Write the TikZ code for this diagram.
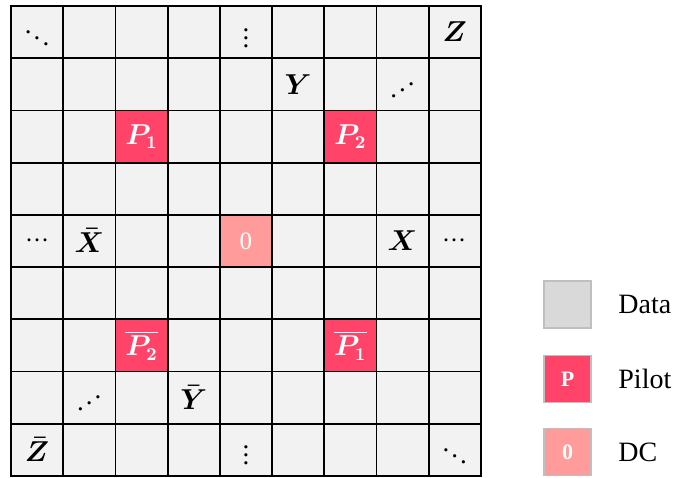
\documentclass[tikz,border=0pt]{standalone}
\usepackage{amsmath,amssymb}
\usepackage{graphicx}
\usepackage{fontspec}
\setmainfont{Liberation Serif}

\definecolor{cellgray}{RGB}{242,242,242}
\definecolor{datagray}{RGB}{217,217,217}
\definecolor{boxline}{RGB}{191,191,191}
\definecolor{pilotred}{RGB}{255,67,105}
\definecolor{dcpink}{RGB}{255,155,155}

\newcommand{\updots}{\reflectbox{$\scriptstyle\ddots$}}
\newcommand{\smdots}[1]{$\scriptstyle#1$}
\newcommand{\rowdots}{$\mathord{\cdot}\mathord{\cdot}\mathord{\cdot}$}

\tikzset{
  cell/.style={draw=black, line width=0.9pt, fill=cellgray, minimum size=26.1pt, inner sep=0pt},
  pilotcell/.style={cell, fill=pilotred, text=white},
  dccell/.style={cell, fill=dcpink, text=white, font=\fontsize{12.5}{15}\selectfont},
  legbox/.style={draw=boxline, line width=0.6pt, minimum size=23.5pt, inner sep=0pt},
  legtext/.style={anchor=west, inner sep=0pt, font=\fontsize{14}{17}\selectfont}
}

\begin{document}
\begin{tikzpicture}[x=0.5pt, y=-0.5pt, font=\fontsize{13.5}{16}\selectfont]
  \useasboundingbox (0,0) rectangle (675,477);

  % resource grid
  \foreach \r in {0,...,8} {
    \foreach \c in {0,...,8} {
      \node[cell] (c\r\c) at ({37.1+52.2*\c},{32.1+52.2*\r}) {};
    }
  }

  % pilots and DC
  \node[pilotcell] (p1) at (c22) {$\boldsymbol{P_1}$};
  \node[pilotcell] (p2) at (c26) {$\boldsymbol{P_2}$};
  \node[pilotcell] (p2bar) at (c62) {$\boldsymbol{\overline{P_2}}$};
  \node[pilotcell] (p1bar) at (c66) {$\boldsymbol{\overline{P_1}}$};
  \node[dccell] (dc) at (c44) {0};

  % data symbols
  \node (ddl) at (c00) {\smdots{\ddots}};
  \node (vdt) at (c04) {\smdots{\vdots}};
  \node (zz) at (c08) {$\boldsymbol{Z}$};
  \node (yy) at (c15) {$\boldsymbol{Y}$};
  \node (udt) at (c17) {\updots};
  \node (hl) at (c40) {\rowdots};
  \node (xbar) at (c41) {$\boldsymbol{\bar{X}}$};
  \node (xx) at (c47) {$\boldsymbol{X}$};
  \node (hr) at (c48) {\rowdots};
  \node (udb) at (c71) {\updots};
  \node (ybar) at (c73) {$\boldsymbol{\bar{Y}}$};
  \node (zbar) at (c80) {$\boldsymbol{\bar{Z}}$};
  \node (vdb) at (c84) {\smdots{\vdots}};
  \node (ddr) at (c88) {\smdots{\ddots}};

  % legend
  \node[legbox, fill=datagray] (ldata) at (567.5,304.5) {};
  \node[legbox, fill=pilotred, text=white, font=\fontsize{11}{13}\selectfont\bfseries] (lpilot) at (567.5,379) {P};
  \node[legbox, fill=dcpink, text=white, font=\fontsize{11}{13}\selectfont\bfseries] (ldc) at (567.5,452) {0};
  \node[legtext] (tdata) at (618,304.5) {Data};
  \node[legtext] (tpilot) at (618,379) {Pilot};
  \node[legtext] (tdc) at (618,452) {DC};
\end{tikzpicture}
\end{document}
